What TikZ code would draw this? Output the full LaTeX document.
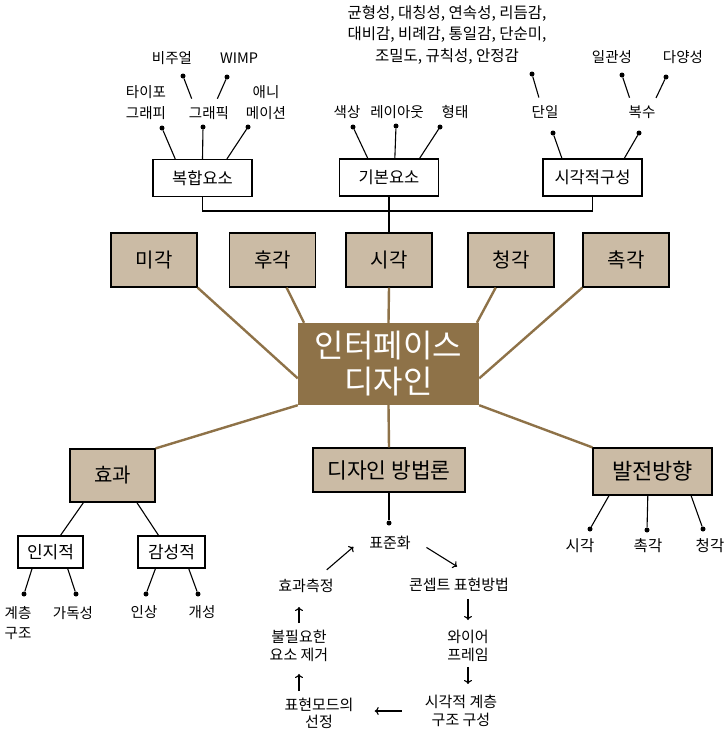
\documentclass[tikz,border=0pt]{standalone}
\usepackage{fontspec}
\setmainfont{Noto Sans CJK KR}
\usetikzlibrary{arrows,arrows.meta}
\definecolor{tanfill}{RGB}{203,187,165}
\definecolor{mudbrown}{RGB}{142,114,72}
\tikzset{
  wbox/.style={draw, line width=1.2pt, fill=white, inner sep=0pt, minimum width=99pt, minimum height=37pt, font=\fontsize{16.5}{19}\selectfont},
  tbox/.style={draw, line width=1.2pt, fill=tanfill, inner sep=0pt, font=\fontsize{20}{24}\selectfont},
  sbox/.style={draw, line width=1.2pt, fill=white, inner sep=0pt, minimum height=32pt, font=\fontsize{17}{20}\selectfont},
  leaf/.style={inner sep=2pt, align=center, font=\fontsize{14.5}{21}\selectfont},
  cyc/.style={inner sep=2pt, align=center, font=\fontsize{15}{18}\selectfont},
  dot/.style={circle, fill=black, inner sep=0pt, minimum size=5pt},
  stem/.style={line width=1.1pt},
  link/.style={draw=mudbrown, line width=2.4pt},
  turn/.style={line width=1.1pt, -{To[length=4pt,width=8pt]}},
}
\begin{document}
\begin{tikzpicture}[x=1pt,y=1pt,yscale=-1,xscale=1]
\useasboundingbox (0,0) rectangle (727,737);

%Box: top white boxes
\node[wbox] (comp) at (202.5,178) {복합요소};
\node[wbox] (basic) at (389,177.5) {기본요소};
\node[wbox] (vcomp) at (592.5,177.5) {시각적구성};

%Text: leaves above the white boxes
\node[leaf] (visual) at (172,58) {비주얼};
\node[leaf] (wimp) at (239,58) {WIMP};
\node[leaf] (typo) at (146,102.5) {타이포\\그래피};
\node[leaf] (graphic) at (209,113) {그래픽};
\node[leaf] (anim) at (266,102.5) {애니\\메이션};
\node[leaf, font=\fontsize{15.5}{21.5}\selectfont] (list) at (447,34.5) {균형성, 대칭성, 연속성, 리듬감,\\대비감, 비례감, 통일감, 단순미,\\조밀도, 규칙성, 안정감};
\node[leaf] (color) at (347,112) {색상};
\node[leaf] (layout) at (397,112) {레이아웃};
\node[leaf] (form) at (455,112) {형태};
\node[leaf] (danil) at (545,112) {단일};
\node[leaf] (boksu) at (642,112) {복수};
\node[leaf] (consist) at (612,57) {일관성};
\node[leaf] (variety) at (683,57) {다양성};

%Shape: dots of the upper leaves
\node[dot] (d-visual) at (183,76) {};
\node[dot] (d-wimp) at (227,77) {};
\node[dot] (d-typo) at (162,128) {};
\node[dot] (d-graphic) at (203,127) {};
\node[dot] (d-anim) at (248,127) {};
\node[dot] (d-color) at (353,127) {};
\node[dot] (d-layout) at (396,126) {};
\node[dot] (d-form) at (440,127) {};
\node[dot] (d-list) at (532,74) {};
\node[dot] (d-single) at (553,133) {};
\node[dot] (d-multi) at (639,133) {};
\node[dot] (d-consist) at (622,75) {};
\node[dot] (d-variety) at (666,77) {};

%Shape: stems of the upper leaves
\draw[stem] (d-typo) -- (comp.145);
\draw[stem] (d-graphic) -- (comp.north);
\draw[stem] (d-anim) -- (comp.38);
\draw[stem, shorten >=6pt] (d-visual) -- (graphic.150);
\draw[stem, shorten >=6pt] (d-wimp) -- (graphic.56);
\draw[stem] (d-color) -- (basic.138);
\draw[stem] (d-layout) -- (basic.73);
\draw[stem] (d-form) -- (basic.32);
\draw[stem, shorten >=6pt] (d-list) -- (danil.117);
\draw[stem] (d-single) -- (vcomp.148);
\draw[stem] (d-multi) -- (vcomp.31);
\draw[stem, shorten >=6pt] (d-consist) -- (boksu.141);
\draw[stem, shorten >=6pt] (d-variety) -- (boksu.37);

%Box: the five senses
\node[tbox, minimum width=86pt, minimum height=54pt] (mi) at (154,260) {미각};
\node[tbox, minimum width=86pt, minimum height=54pt] (hu) at (272.5,260) {후각};
\node[tbox, minimum width=86pt, minimum height=54pt] (si) at (389,260) {시각};
\node[tbox, minimum width=86pt, minimum height=54pt] (cheong) at (511,260) {청각};
\node[tbox, minimum width=86pt, minimum height=54pt] (chok) at (626,260) {촉각};

%Shape: bus from the white boxes
\coordinate (bus) at (389,211);
\draw[stem] (comp.south) |- (bus) -| (vcomp.south);
\draw[stem] (basic.south) -- (si.north);

%Box: centre
\node[fill=mudbrown, text=white, inner sep=0pt, minimum width=181pt, minimum height=82pt, align=center, font=\fontsize{32}{36}\selectfont] (iface) at (388.5,364) {인터페이스\\디자인};

%Box: lower row
\node[tbox, minimum width=85pt, minimum height=53pt] (hyo) at (112.5,475.5) {효과};
\node[tbox, minimum width=152pt, minimum height=44pt, font=\fontsize{21.5}{25}\selectfont] (method) at (389,470) {디자인 방법론};
\node[tbox, minimum width=119pt, minimum height=47pt, font=\fontsize{22}{26}\selectfont] (dev) at (652.5,471.5) {발전방향};

%Shape: brown links
\draw[link] (mi.south east) -- (iface.189);
\draw[link] (hu.-63) -- (iface.154);
\draw[link] (si.south) -- (iface.north);
\draw[link] (cheong.241) -- (iface.25);
\draw[link] (chok.south west) -- (iface.351);
\draw[link] (iface.south west) -- (hyo.north east);
\draw[link] (iface.south) -- (method.north);
\draw[link] (iface.south east) -- (dev.north west);

%Box: effect branches
\node[sbox, minimum width=65pt] (inji) at (50.5,552) {인지적};
\node[sbox, minimum width=67pt] (gams) at (171.5,552) {감성적};
\draw[stem] (hyo.223) -- (inji.59);
\draw[stem] (hyo.-48) -- (gams.128);

%Shape: lower dots and stems
\node[dot] (d-hier) at (24,594) {};
\node[dot] (d-read) at (76,594) {};
\node[dot] (d-impr) at (146,594) {};
\node[dot] (d-pers) at (198,594) {};
\node[dot] (d-method) at (389,523) {};
\node[dot] (d-sight) at (590,529) {};
\node[dot] (d-touch) at (647,530) {};
\node[dot] (d-hear) at (703,529) {};
\draw[stem] (inji.222) -- (d-hier);
\draw[stem] (inji.-44) -- (d-read);
\draw[stem] (gams.226) -- (d-impr);
\draw[stem] (gams.-44) -- (d-pers);
\draw[stem] (method.south) -- (d-method);
\draw[stem] (dev.209) -- (d-sight);
\draw[stem] (dev.259) -- (d-touch);
\draw[stem] (dev.-32) -- (d-hear);

%Text: lower leaves
\node[leaf, font=\fontsize{14.5}{20}\selectfont] (hier) at (18,623) {계층\\구조};
\node[leaf] (read) at (73,613) {가독성};
\node[leaf] (impr) at (144,612) {인상};
\node[leaf] (pers) at (202,612) {개성};
\node[leaf, font=\fontsize{15.5}{20}\selectfont] (sight) at (580,546) {시각};
\node[leaf, font=\fontsize{15.5}{20}\selectfont] (touch) at (648,546) {촉각};
\node[leaf, font=\fontsize{15.5}{20}\selectfont] (hear) at (710,546) {청각};

%Text: method cycle
\node[cyc] (std) at (390,543) {표준화};
\node[cyc] (concept) at (459,585) {콘셉트 표현방법};
\node[cyc] (wire) at (468,646) {와이어\\프레임};
\node[cyc] (vcs) at (461,711) {시각적 계층\\구조 구성};
\node[cyc, font=\fontsize{15}{17}\selectfont] (mode) at (319,713.5) {표현모드의\\선정};
\node[cyc] (remove) at (299,646) {불필요한\\요소 제거};
\node[cyc] (effm) at (306,586) {효과측정};

%Shape: cycle arrows
\draw[turn, shorten <=16pt, shorten >=18pt] (std.10) -- (concept.34);
\draw[turn, shorten <=5pt, shorten >=8pt] (concept.south -| wire.north) -- (wire.north);
\draw[turn, shorten <=3pt, shorten >=9pt] (wire.south) -- (wire.south |- vcs.north);
\draw[turn, shorten <=21pt, shorten >=19pt] (vcs.west) -- (vcs.west -| mode.east);
\draw[turn, shorten <=5pt, shorten >=10pt] (mode.north -| remove.south) -- (remove.south);
\draw[turn, shorten <=5pt, shorten >=12pt] (remove.north) -- (remove.north |- effm.south);
\draw[turn, shorten <=11pt, shorten >=18pt] (effm.36) -- (std.161);

\end{tikzpicture}
\end{document}
